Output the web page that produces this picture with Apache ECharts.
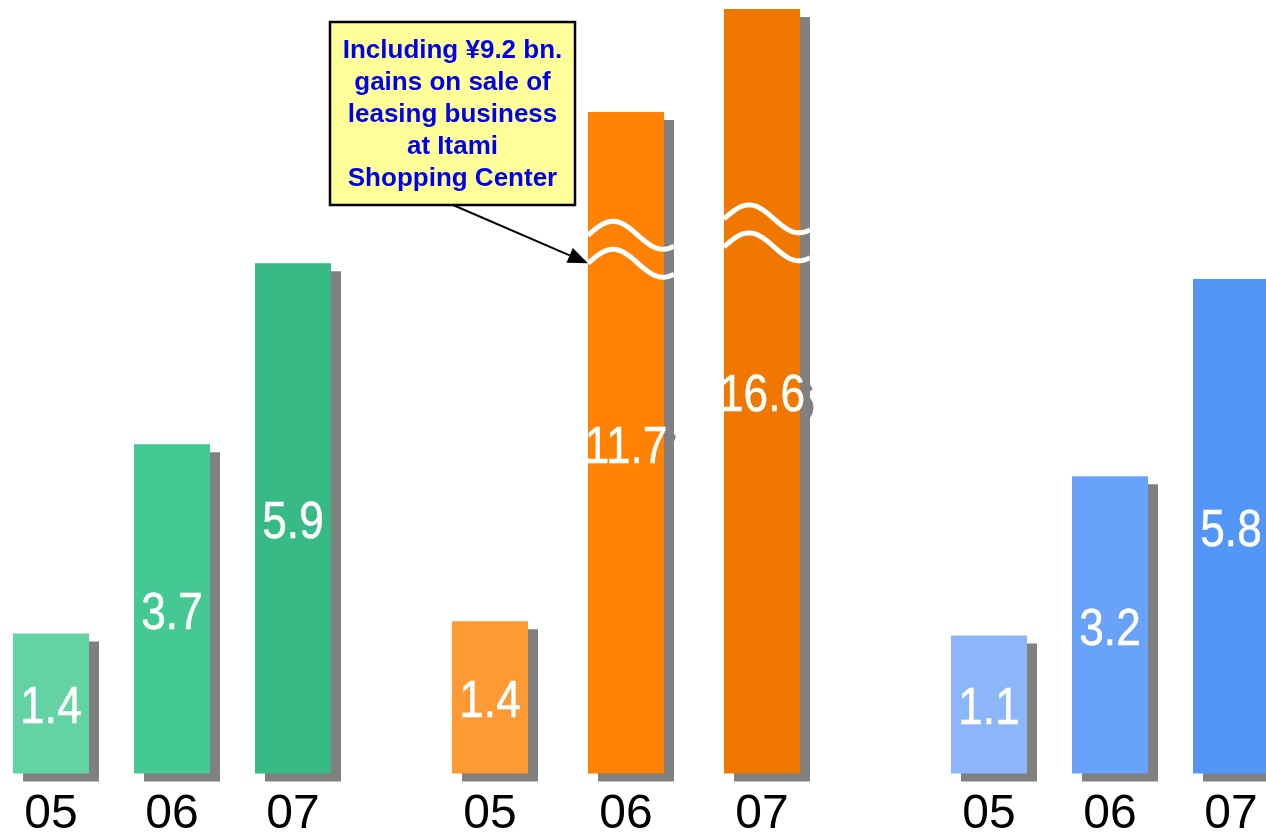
<!DOCTYPE html>
<html>
<head>
<meta charset="utf-8">
<script src="https://cdn.jsdelivr.net/npm/echarts@6/dist/echarts.min.js"></script>
<style>
  html, body { margin: 0; padding: 0; background: #fff; }
  #chart { width: 1266px; height: 833px; }
</style>
</head>
<body>
<div id="chart"></div>
<script>
// ---- data ----
const years = ['05', '06', '07'];
const greenValues = [1.4, 3.7, 5.9];
const orangeValues = [1.4, 11.7, 16.6];
const blueValues = [1.1, 3.2, 5.8];
// value range skipped (axis break) on each tall orange bar
const orangeBreakFrom = [null, 5.75, 5.95];
const orangeBreakTo = [null, 10.2, 14.05];
const noteLines = ['Including \u00A59.2 bn.', 'gains on sale of', 'leasing business', 'at Itami', 'Shopping Center'];

// ---- style ----
const greenColors = ['#64D3A4', '#45C994', '#37BA86'];
const orangeColors = ['#FF9933', '#FF8205', '#F07800'];
const blueColors = ['#8BB7FA', '#69A3F9', '#5297F8'];
const BAR_W = 76;
const SHADOW_DX = 10, SHADOW_DY = 8, SHADOW = '#808080';
const LABEL_FONT = '52px "Liberation Sans", Arial, sans-serif';
const LABEL_SCALE_X = 0.85;  // narrow figures
const LABEL_DY = 5.5;
const BREAK_GAP = 0.34;      // size of the skipped band, in value units
const PLOT_SPAN = 9.4;       // value units visible over the plot height
const WAVE_PERIOD = 100, WAVE_AMP = 14;

function labelText(text, x, y, color, z2) {
  return {
    type: 'text', z2: z2, x: x, y: y, scaleX: LABEL_SCALE_X,
    style: {
      text: text, fill: color, stroke: color, lineWidth: 0.5,
      font: LABEL_FONT, align: 'center', verticalAlign: 'middle'
    }
  };
}

function barRenderer(colors, breakFrom, breakTo) {
  return function (params, api) {
    const cat = api.value(0);
    const val = api.value(1);
    const cs = params.coordSys;
    const bottom = cs.y + cs.height;
    const top = api.coord([cat, val]);
    const x = top[0] - BAR_W / 2;
    const h = bottom - top[1];
    const text = val.toFixed(1);
    const cx = top[0];
    const cy = top[1] + h / 2 + LABEL_DY;
    const children = [
      { type: 'rect', z2: 0, shape: { x: x + SHADOW_DX, y: top[1] + SHADOW_DY, width: BAR_W, height: h }, style: { fill: SHADOW } },
      labelText(text, cx + SHADOW_DX, cy + SHADOW_DY, SHADOW, 1),
      { type: 'rect', z2: 2, shape: { x: x, y: top[1], width: BAR_W, height: h }, style: { fill: colors[cat] } },
      labelText(text, cx, cy, '#fff', 3)
    ];
    if (breakFrom && breakFrom[cat] != null) {
      // two white waves marking where the bar is broken
      [breakFrom[cat], breakTo[cat]].forEach(function (v) {
        const y0 = api.coord([cat, v])[1];
        const pts = [];
        const span = BAR_W + SHADOW_DX + 1;
        for (let t = 0; t <= span; t += 2) {
          pts.push([x + t, y0 - WAVE_AMP * Math.sin(2 * Math.PI * t / WAVE_PERIOD)]);
        }
        children.push({ type: 'polyline', z2: 4, shape: { points: pts }, style: { stroke: '#fff', lineWidth: 5, fill: null } });
      });
    }
    return { type: 'group', children: children };
  };
}

const GRID_TOP = 0, GRID_BOTTOM = 59.5;
const grids = [
  { left: 51, width: 242 },
  { left: 490, width: 272 },
  { left: 989, width: 242 }
].map(function (g) {
  return Object.assign({ top: GRID_TOP, bottom: GRID_BOTTOM, outerBoundsMode: 'none', containLabel: false }, g);
});

const xAxes = [0, 1, 2].map(function (i) {
  return {
    gridIndex: i, type: 'category', data: years, boundaryGap: false,
    axisLine: { show: false }, axisTick: { show: false }, splitLine: { show: false },
    axisLabel: { interval: 0, margin: 17, fontSize: 48, color: '#000', fontFamily: '"Liberation Sans", Arial, sans-serif' }
  };
});

const ORANGE_MIN = -0.45;
const yAxes = [
  { gridIndex: 0, type: 'value', show: false, min: -0.3, max: -0.3 + PLOT_SPAN }
];
orangeValues.forEach(function (v, i) {
  const ax = { gridIndex: 1, type: 'value', show: false, min: ORANGE_MIN, max: ORANGE_MIN + PLOT_SPAN };
  if (orangeBreakFrom[i] != null) {
    ax.breaks = [{ start: orangeBreakFrom[i], end: orangeBreakTo[i], gap: BREAK_GAP }];
    ax.breakArea = { show: false, itemStyle: { opacity: 0 } };
    ax.max += (orangeBreakTo[i] - orangeBreakFrom[i]) - BREAK_GAP;
  }
  yAxes.push(ax);
});
yAxes.push({ gridIndex: 2, type: 'value', show: false, min: -0.72, max: -0.72 + 10.2 });
const BLUE_Y = yAxes.length - 1;

const series = [
  {
    type: 'custom', xAxisIndex: 0, yAxisIndex: 0, clip: false,
    renderItem: barRenderer(greenColors),
    data: greenValues.map(function (v, i) { return [i, v]; })
  }
];
orangeValues.forEach(function (v, i) {
  series.push({
    type: 'custom', xAxisIndex: 1, yAxisIndex: 1 + i, clip: false,
    renderItem: barRenderer(orangeColors, orangeBreakFrom, orangeBreakTo),
    data: [[i, v]]
  });
});
series.push({
  type: 'custom', xAxisIndex: 2, yAxisIndex: BLUE_Y, clip: false,
  renderItem: barRenderer(blueColors),
  data: blueValues.map(function (v, i) { return [i, v]; })
});

const chart = echarts.init(document.getElementById('chart'), null, { renderer: 'canvas' });
chart.setOption({
  animation: false,
  backgroundColor: '#fff',
  grid: grids,
  xAxis: xAxes,
  yAxis: yAxes,
  series: series
});

// callout pointing at the break of the 06 orange bar
const tipPt = chart.convertToPixel({ xAxisIndex: 1, yAxisIndex: 2 }, [1, orangeBreakFrom[1]]);
const tx = tipPt[0] - BAR_W / 2, ty = tipPt[1];
const sx = 453, sy = 205;
const len = Math.hypot(tx - sx, ty - sy);
const ux = (tx - sx) / len, uy = (ty - sy) / len;
const headL = 20, headW = 8;
const bx = tx - ux * headL, by = ty - uy * headL;

chart.setOption({
  graphic: [
    { type: 'rect', z: 10, shape: { x: 330, y: 22, width: 245, height: 183 }, style: { fill: '#FFFF99', stroke: '#000', lineWidth: 2.5 } },
    { type: 'text', z: 11, x: 452.5, y: 115, style: { text: noteLines.join('\n'), font: 'bold 26px "Liberation Sans", Arial, sans-serif', fill: '#0000EE', align: 'center', verticalAlign: 'middle', lineHeight: 32 } },
    { type: 'line', z: 10, shape: { x1: sx, y1: sy, x2: bx, y2: by }, style: { stroke: '#000', lineWidth: 2 } },
    { type: 'polygon', z: 10, shape: { points: [[tx, ty], [bx - uy * headW, by + ux * headW], [bx + uy * headW, by - ux * headW]] }, style: { fill: '#000' } }
  ]
});
</script>
</body>
</html>
